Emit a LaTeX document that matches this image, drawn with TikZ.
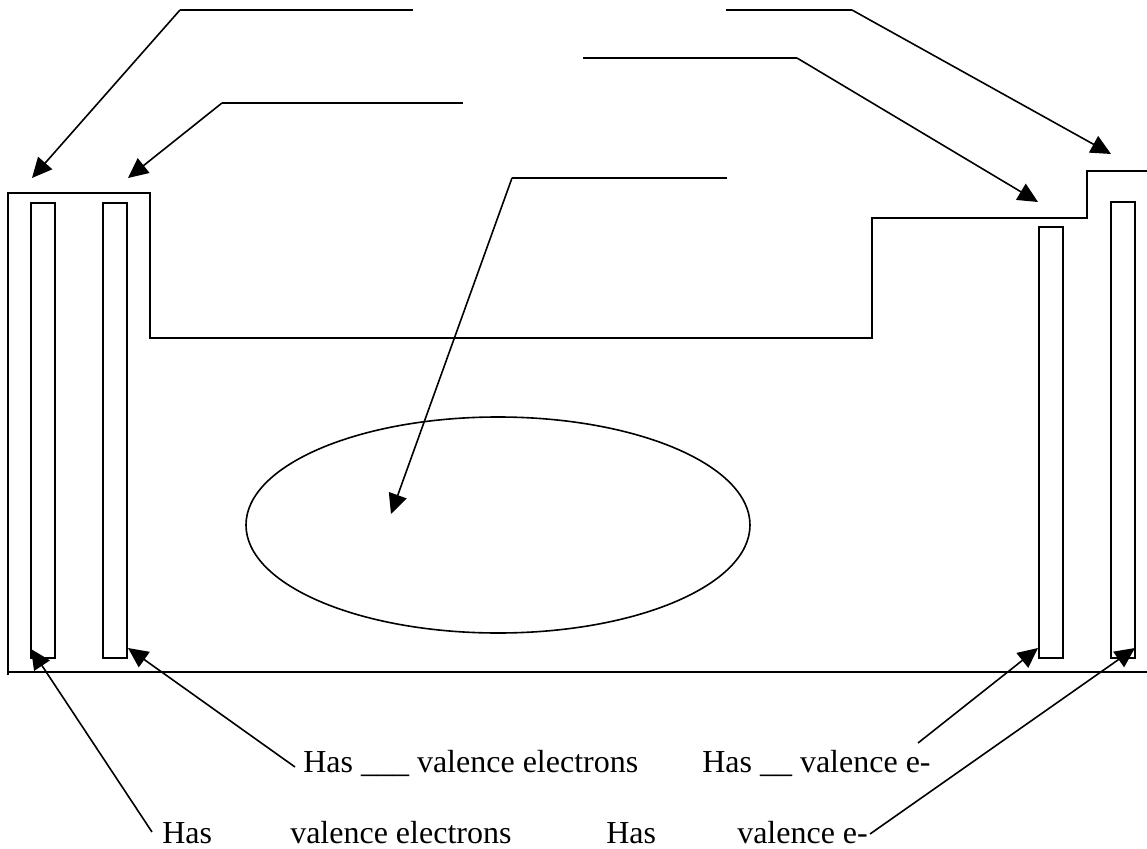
\documentclass[tikz,border=0pt]{standalone}
\usepackage{fontspec}
\setmainfont{Liberation Serif}
\usetikzlibrary{arrows.meta,shapes.geometric}
\begin{document}
\begin{tikzpicture}[x=0.75pt,y=-0.75pt,
  outline/.style={line width=1.5pt},
  bar/.style={draw,line width=1.5pt,minimum width=18pt,inner sep=0pt,outer sep=0pt},
  leader/.style={line width=1.2pt},
  pointer/.style={line width=1.2pt,-{Triangle[length=15pt,width=14pt]}},
  lbl/.style={anchor=base west,inner sep=0pt,font=\fontsize{24}{28}\selectfont}]
\useasboundingbox (0,0) rectangle (1147,849);
% outline of the table
\coordinate (o1) at (8,675);
\coordinate (o2) at (8,193);
\coordinate (o3) at (150,193);
\coordinate (o4) at (150,338);
\coordinate (o5) at (872,338);
\coordinate (o6) at (872,218);
\coordinate (o7) at (1087,218);
\coordinate (o8) at (1087,171);
\coordinate (o9) at (1147,171);
\draw[outline] (o1) -- (o2) -- (o3) -- (o4) -- (o5) -- (o6) -- (o7) -- (o8) -- (o9);
\coordinate (b1) at (8,672);
\coordinate (b2) at (1147,672);
\draw[outline] (b1) -- (b2);
% columns
\node[bar,minimum height=341.25pt] (c1) at (43,430.5) {};
\node[bar,minimum height=341.25pt] (c2) at (115,430.5) {};
\node[bar,minimum height=323.25pt] (c17) at (1051,442.5) {};
\node[bar,minimum height=342pt] (c18) at (1123,430) {};
% ellipse
\node[draw,ellipse,line width=1.2pt,minimum width=378pt,minimum height=162pt,inner sep=0pt] (ell) at (498,525) {};
% top leaders
\coordinate (h1a) at (413,10); \coordinate (h1b) at (180,10); \coordinate (t1) at (32,178);
\draw[leader] (h1a) -- (h1b); \draw[pointer] (h1b) -- (t1);
\coordinate (h2a) at (463,103); \coordinate (h2b) at (222,103); \coordinate (t2) at (128,178);
\draw[leader] (h2a) -- (h2b); \draw[pointer] (h2b) -- (t2);
\coordinate (h3a) at (726,10); \coordinate (h3b) at (852,10); \coordinate (t3) at (1111,154);
\draw[leader] (h3a) -- (h3b); \draw[pointer] (h3b) -- (t3);
\coordinate (h4a) at (583,58); \coordinate (h4b) at (797,58); \coordinate (t4) at (1038,202);
\draw[leader] (h4a) -- (h4b); \draw[pointer] (h4b) -- (t4);
\coordinate (h5a) at (727,178); \coordinate (h5b) at (512,178); \coordinate (t5) at (391,514);
\draw[leader] (h5a) -- (h5b); \draw[pointer] (h5b) -- (t5);
% bottom labels
\node[lbl] (l1) at (303,772) {Has \_\_\_ valence electrons};
\node[lbl] (l2) at (702,772) {Has \_\_ valence e-};
\node[lbl] (l3) at (162,843) {Has};
\node[lbl] (l4) at (290,843) {valence electrons};
\node[lbl] (l5) at (606,843) {Has};
\node[lbl] (l6) at (737,843) {valence e-};
% bottom pointers
\coordinate (s1) at (295,767); \coordinate (u1) at (128,648);
\draw[pointer] (s1) -- (u1);
\coordinate (s2) at (152,832); \coordinate (u2) at (31,649);
\draw[pointer] (s2) -- (u2);
\coordinate (s3) at (918,743); \coordinate (u3) at (1038,648);
\draw[pointer] (s3) -- (u3);
\coordinate (s4) at (870,834); \coordinate (u4) at (1135,648);
\draw[pointer] (s4) -- (u4);
\end{tikzpicture}
\end{document}
